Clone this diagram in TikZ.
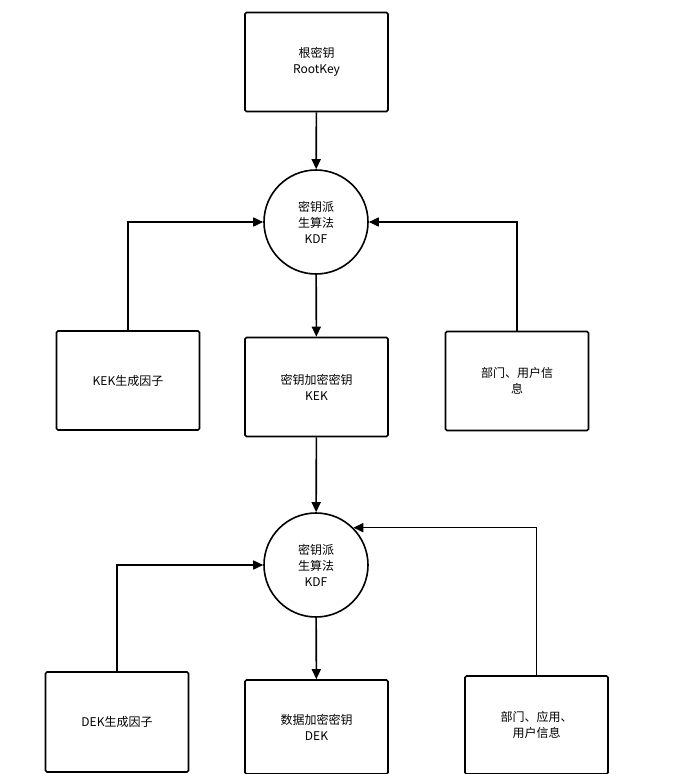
\documentclass[tikz,border=0pt]{standalone}
\usepackage{fontspec}
\setmainfont{Noto Sans CJK SC}
\usetikzlibrary{arrows.meta}
\begin{document}
\begin{tikzpicture}[x=1pt,y=-1pt,
  box/.style={draw,line width=1.6pt,rounded corners=1.5pt,minimum width=143pt,minimum height=99pt,align=center,font=\fontsize{12}{16}\selectfont,inner sep=2pt},
  circ/.style={draw,line width=1.6pt,circle,minimum size=104pt,align=center,font=\fontsize{12}{16}\selectfont,inner sep=0pt},
  arr/.style={line width=1.6pt,-{Triangle[length=10pt,width=9pt]}}]
\useasboundingbox (0,0) rectangle (687,774);
\node[box] (root) at (316.5,62) {根密钥\\RootKey};
\node[circ] (k1) at (316,222) {密钥派\\生算法\\KDF};
\node[box] (kekg) at (128,380.5) {KEK生成因子};
\node[box] (kek) at (316.5,387) {密钥加密密钥\\KEK};
\node[box] (dep1) at (517,381) {部门、用户信\\息};
\node[circ] (k2) at (316,565) {密钥派\\生算法\\KDF};
\node[box,minimum height=100pt] (dekg) at (117,722) {DEK生成因子};
\node[box,minimum height=94pt] (dek) at (316.5,727) {数据加密密钥\\DEK};
\node[box,minimum height=98pt] (dep2) at (536.5,725) {部门、应用、\\用户信息};
\draw[arr] (root) -- (k1);
\draw[arr] (k1) -- (kek);
\draw[arr] (kek) -- (k2);
\draw[arr] (k2) -- (dek);
\draw[arr] (kekg.north) |- (k1.west);
\draw[arr] (dep1.north) |- (k1.east);
\draw[arr] (dekg.north) |- (k2.west);
\draw[arr] (dep2.north) |- (k2.north east);
\end{tikzpicture}
\end{document}
